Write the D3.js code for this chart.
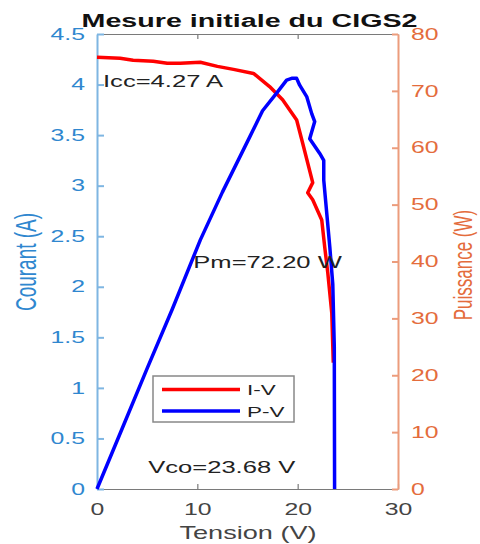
<!DOCTYPE html>
<html>
<head>
<meta charset="utf-8">
<script src="https://cdn.jsdelivr.net/npm/d3@7"></script>
<style>
  body { margin: 0; background: #fff; }
  text { font-family: "Liberation Sans", Arial, sans-serif; }
</style>
</head>
<body>
<svg id="chart" width="480" height="544"></svg>
<script>
// I-V curve: tension (V) / courant (A)
const ivTension = [0, 2.3, 3.6, 5.6, 7.0, 8.3, 10.3, 12.0, 13.6, 15.6, 17.2, 18.5, 19.9, 20.5, 21.5, 21.0, 21.5, 22.4, 22.7, 23.0, 23.4, 23.55];
const ivCourant = [4.27, 4.26, 4.24, 4.23, 4.21, 4.21, 4.22, 4.18, 4.15, 4.11, 3.98, 3.85, 3.65, 3.42, 3.03, 2.93, 2.86, 2.66, 2.39, 2.14, 1.74, 1.25];

// P-V curve: tension (V) / puissance (W)
const pvTension = [0, 2.5, 5, 7.5, 10.3, 12.5, 15.25, 16.5, 17.9, 18.9, 19.4, 19.9, 20.2, 20.9, 21.4, 21.7, 21.2, 22.2, 22.6, 22.6, 23.2, 23.5, 23.65, 23.68];
const pvPuissance = [0, 10.6, 21.2, 31.6, 43.8, 52.2, 62.0, 66.5, 69.6, 71.9, 72.2, 72.2, 71.0, 69.0, 66.0, 64.6, 61.6, 59.0, 57.8, 54.3, 42.6, 36.0, 25.0, 0];

const xTicks = [0, 10, 20, 30];
const courantTicks = [0, 0.5, 1, 1.5, 2, 2.5, 3, 3.5, 4, 4.5];
const puissanceTicks = [0, 10, 20, 30, 40, 50, 60, 70, 80];
const legendLabels = ["I-V", "P-V"];
const legendColors = ["#ff0000", "#0000ff"];

const SX = 1.55; // the reference is stretched horizontally
const blueTxt = "#2f87cf", blueLine = "#7fb6e2";
const orangeTxt = "#e46c3c", orangeLine = "#ec9c7c";
const grey = "#7a7a7a";

const margin = {top: 34, right: 82, bottom: 55, left: 97};
const W = 480, H = 544;
const iw = W - margin.left - margin.right;
const ih = H - margin.top - margin.bottom;

const svg = d3.select("#chart");
const g = svg.append("g").attr("transform", `translate(${margin.left},${margin.top})`);

const x = d3.scaleLinear().domain([0, 30]).range([0, iw]);
const yI = d3.scaleLinear().domain([0, 4.5]).range([ih, 0]);
const yP = d3.scaleLinear().domain([0, 80]).range([ih, 0]);

function label(sel, px, py, str, size, color, anchor, rotate, weight) {
  return sel.append("text")
    .attr("transform", `translate(${px},${py}) scale(${SX},1)` + (rotate ? " rotate(-90)" : ""))
    .attr("text-anchor", anchor || "start")
    .attr("font-size", size)
    .attr("font-weight", weight || "normal")
    .attr("fill", color)
    .text(str);
}

// top border with ticks
g.append("g")
  .call(d3.axisTop(x).tickValues([10, 20]).tickSize(-5).tickSizeOuter(0).tickFormat(""))
  .call(a => a.selectAll("path,line").attr("stroke", grey).attr("stroke-width", 1.2));

// bottom axis
g.append("g")
  .attr("transform", `translate(0,${ih})`)
  .call(d3.axisBottom(x).tickValues(xTicks).tickSize(-5).tickSizeOuter(0))
  .call(a => {
    a.selectAll("path,line").attr("stroke", grey).attr("stroke-width", 1.2);
    a.selectAll("text").attr("fill", "#444").attr("font-size", 16)
      .attr("y", 26).attr("dy", null).attr("transform", `scale(${SX},1)`);
  });

// left axis (courant)
g.append("g")
  .call(d3.axisLeft(yI).tickValues(courantTicks).tickSize(-7).tickSizeOuter(0).tickFormat(d => String(d)))
  .call(a => {
    a.selectAll("path,line").attr("stroke", blueLine).attr("stroke-width", 2);
    a.selectAll("text").attr("fill", blueTxt).attr("font-size", 16)
      .attr("x", -12 / SX).attr("transform", `scale(${SX},1)`);
  });

// right axis (puissance)
g.append("g")
  .attr("transform", `translate(${iw},0)`)
  .call(d3.axisRight(yP).tickValues(puissanceTicks).tickSize(-6).tickSizeOuter(0))
  .call(a => {
    a.selectAll("path,line").attr("stroke", orangeLine).attr("stroke-width", 2);
    a.selectAll("text").attr("fill", orangeTxt).attr("font-size", 16)
      .attr("x", 13 / SX).attr("transform", `scale(${SX},1)`);
  });

// curves
const ivLine = d3.line().x(i => x(ivTension[i])).y(i => yI(ivCourant[i]));
const pvLine = d3.line().x(i => x(pvTension[i])).y(i => yP(pvPuissance[i]));

g.append("path")
  .attr("d", ivLine(d3.range(ivTension.length)))
  .attr("fill", "none").attr("stroke", legendColors[0])
  .attr("stroke-width", 3.5).attr("stroke-linejoin", "round");

g.append("path")
  .attr("d", pvLine(d3.range(pvTension.length)))
  .attr("fill", "none").attr("stroke", legendColors[1])
  .attr("stroke-width", 3.5).attr("stroke-linejoin", "round");

// annotations
label(g, x(0.6), yI(3.98), "Icc=4.27 A", 16.5, "#222");
label(g, x(9.6), yI(2.19), "Pm=72.20 W", 16.5, "#222");
label(g, x(5.1), yI(0.16), "Vco=23.68 V", 16.5, "#222");

// legend
const lg = svg.append("g").attr("transform", "translate(153,376)");
lg.append("rect").attr("width", 141).attr("height", 46)
  .attr("fill", "#fff").attr("stroke", "#888").attr("stroke-width", 1.5);
legendLabels.forEach((d, i) => {
  const yy = 13.5 + i * 21.5;
  lg.append("line").attr("x1", 9).attr("x2", 87).attr("y1", yy).attr("y2", yy)
    .attr("stroke", legendColors[i]).attr("stroke-width", 3.5);
  label(lg, 94, yy + 5.5, d, 14.5, "#222");
});

// title and axis labels
label(svg, 249.5, 27, "Mesure initiale du CIGS2", 18.5, "#111", "middle", false, "bold");
label(svg, 248, 539, "Tension (V)", 17.5, "#444", "middle");
label(svg, 36, 262, "Courant (A)", 19, blueTxt, "middle", true);
label(svg, 472, 265, "Puissance (W)", 17, orangeTxt, "middle", true);
</script>
</body>
</html>
